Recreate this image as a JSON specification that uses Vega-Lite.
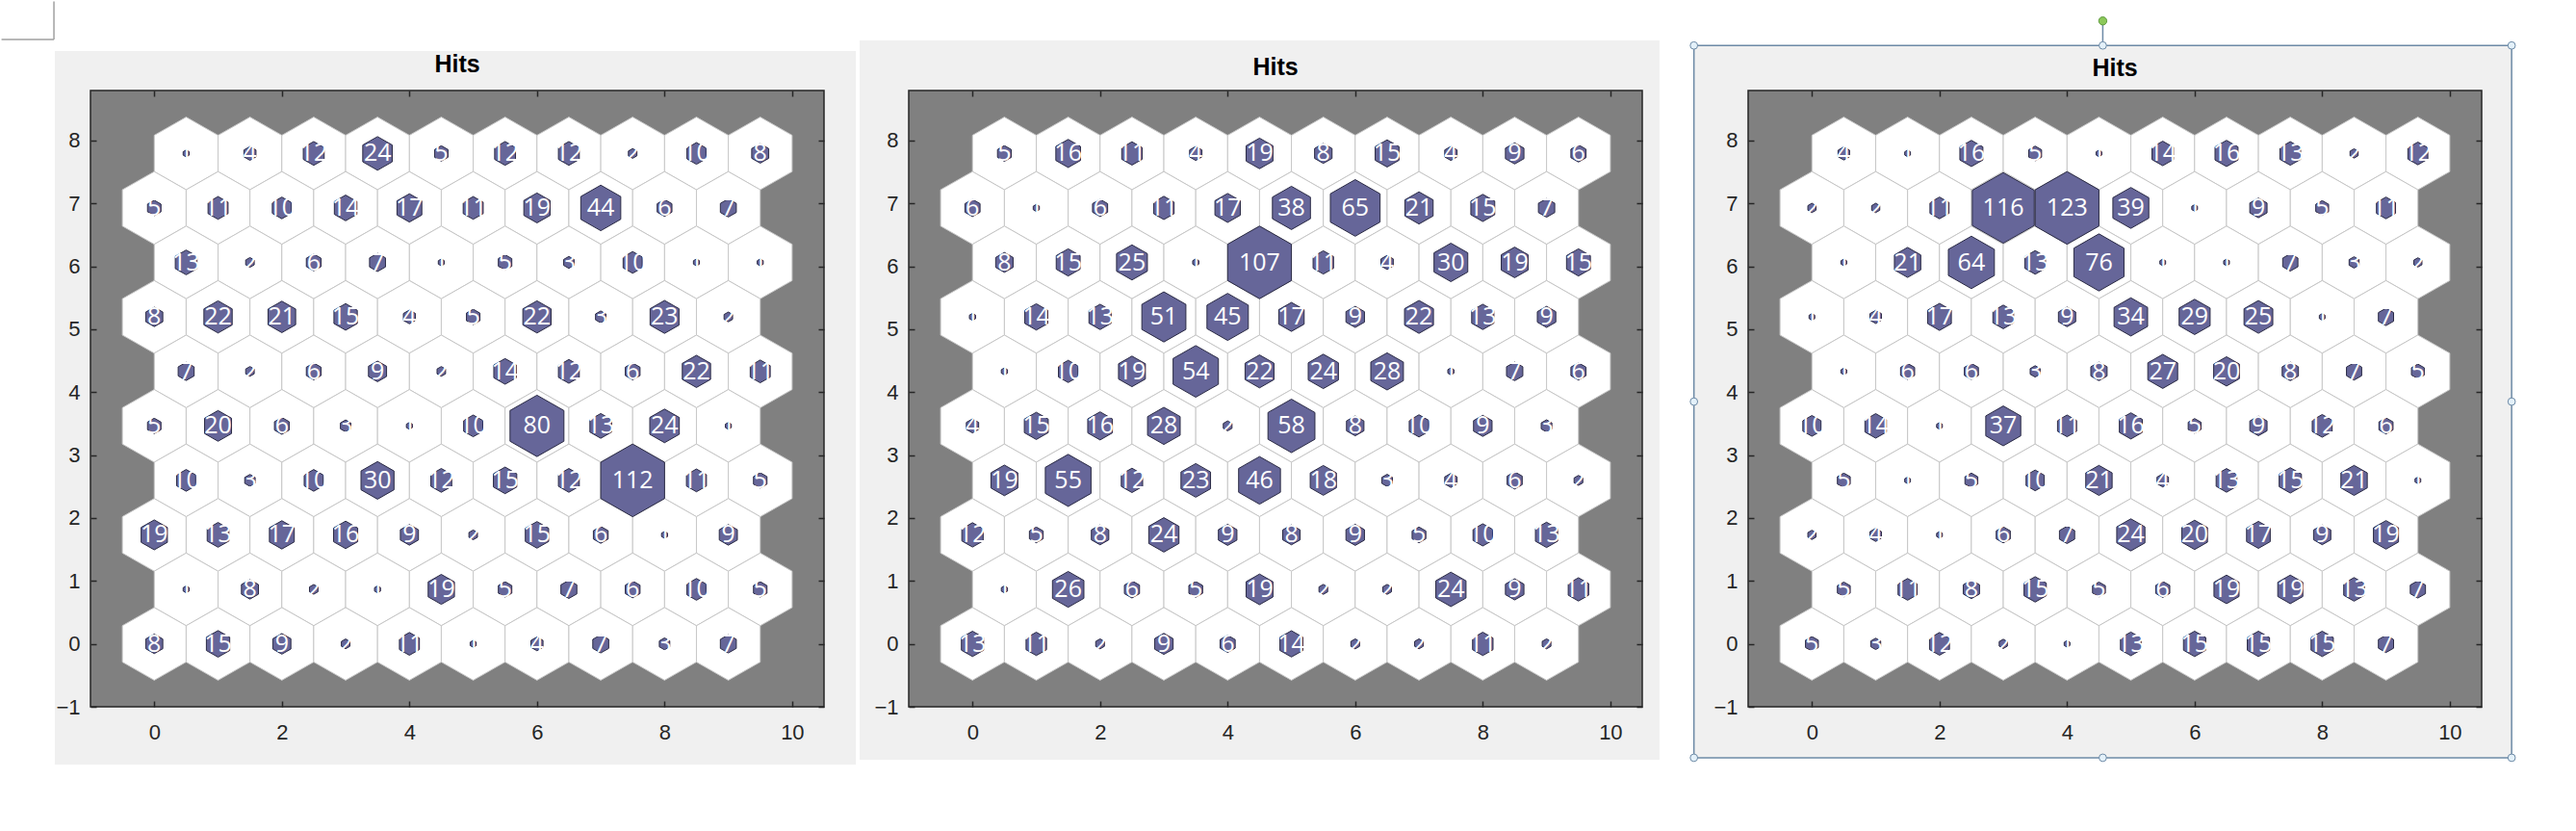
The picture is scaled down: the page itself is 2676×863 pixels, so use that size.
{
"$schema":"https://vega.github.io/schema/vega-lite/v6.json",
"background":"#ffffff",
"padding":{"left":0,"top":0,"right":10,"bottom":10},
"config":{"view":{"stroke":"transparent"}},
"datasets":{
"p1":[
{"x":0.5,"y":7.7942,"h":1},{"x":1.5,"y":7.7942,"h":4},{"x":2.5,"y":7.7942,"h":12},{"x":3.5,"y":7.7942,"h":24},{"x":4.5,"y":7.7942,"h":5},{"x":5.5,"y":7.7942,"h":12},{"x":6.5,"y":7.7942,"h":12},{"x":7.5,"y":7.7942,"h":2},{"x":8.5,"y":7.7942,"h":10},{"x":9.5,"y":7.7942,"h":8},
{"x":0,"y":6.9282,"h":5},{"x":1,"y":6.9282,"h":11},{"x":2,"y":6.9282,"h":10},{"x":3,"y":6.9282,"h":14},{"x":4,"y":6.9282,"h":17},{"x":5,"y":6.9282,"h":11},{"x":6,"y":6.9282,"h":19},{"x":7,"y":6.9282,"h":44},{"x":8,"y":6.9282,"h":6},{"x":9,"y":6.9282,"h":7},
{"x":0.5,"y":6.0622,"h":13},{"x":1.5,"y":6.0622,"h":2},{"x":2.5,"y":6.0622,"h":6},{"x":3.5,"y":6.0622,"h":7},{"x":4.5,"y":6.0622,"h":1},{"x":5.5,"y":6.0622,"h":5},{"x":6.5,"y":6.0622,"h":3},{"x":7.5,"y":6.0622,"h":10},{"x":8.5,"y":6.0622,"h":1},{"x":9.5,"y":6.0622,"h":1},
{"x":0,"y":5.1962,"h":8},{"x":1,"y":5.1962,"h":22},{"x":2,"y":5.1962,"h":21},{"x":3,"y":5.1962,"h":15},{"x":4,"y":5.1962,"h":4},{"x":5,"y":5.1962,"h":5},{"x":6,"y":5.1962,"h":22},{"x":7,"y":5.1962,"h":3},{"x":8,"y":5.1962,"h":23},{"x":9,"y":5.1962,"h":2},
{"x":0.5,"y":4.3301,"h":7},{"x":1.5,"y":4.3301,"h":2},{"x":2.5,"y":4.3301,"h":6},{"x":3.5,"y":4.3301,"h":9},{"x":4.5,"y":4.3301,"h":2},{"x":5.5,"y":4.3301,"h":14},{"x":6.5,"y":4.3301,"h":12},{"x":7.5,"y":4.3301,"h":6},{"x":8.5,"y":4.3301,"h":22},{"x":9.5,"y":4.3301,"h":11},
{"x":0,"y":3.4641,"h":5},{"x":1,"y":3.4641,"h":20},{"x":2,"y":3.4641,"h":6},{"x":3,"y":3.4641,"h":3},{"x":4,"y":3.4641,"h":1},{"x":5,"y":3.4641,"h":10},{"x":6,"y":3.4641,"h":80},{"x":7,"y":3.4641,"h":13},{"x":8,"y":3.4641,"h":24},{"x":9,"y":3.4641,"h":1},
{"x":0.5,"y":2.5981,"h":10},{"x":1.5,"y":2.5981,"h":3},{"x":2.5,"y":2.5981,"h":10},{"x":3.5,"y":2.5981,"h":30},{"x":4.5,"y":2.5981,"h":12},{"x":5.5,"y":2.5981,"h":15},{"x":6.5,"y":2.5981,"h":12},{"x":7.5,"y":2.5981,"h":112},{"x":8.5,"y":2.5981,"h":11},{"x":9.5,"y":2.5981,"h":5},
{"x":0,"y":1.7321,"h":19},{"x":1,"y":1.7321,"h":13},{"x":2,"y":1.7321,"h":17},{"x":3,"y":1.7321,"h":16},{"x":4,"y":1.7321,"h":9},{"x":5,"y":1.7321,"h":2},{"x":6,"y":1.7321,"h":15},{"x":7,"y":1.7321,"h":6},{"x":8,"y":1.7321,"h":1},{"x":9,"y":1.7321,"h":9},
{"x":0.5,"y":0.866,"h":1},{"x":1.5,"y":0.866,"h":8},{"x":2.5,"y":0.866,"h":2},{"x":3.5,"y":0.866,"h":1},{"x":4.5,"y":0.866,"h":19},{"x":5.5,"y":0.866,"h":5},{"x":6.5,"y":0.866,"h":7},{"x":7.5,"y":0.866,"h":6},{"x":8.5,"y":0.866,"h":10},{"x":9.5,"y":0.866,"h":5},
{"x":0,"y":0,"h":8},{"x":1,"y":0,"h":15},{"x":2,"y":0,"h":9},{"x":3,"y":0,"h":2},{"x":4,"y":0,"h":11},{"x":5,"y":0,"h":1},{"x":6,"y":0,"h":4},{"x":7,"y":0,"h":7},{"x":8,"y":0,"h":3},{"x":9,"y":0,"h":7}
],
"p2":[
{"x":0.5,"y":7.7942,"h":5},{"x":1.5,"y":7.7942,"h":16},{"x":2.5,"y":7.7942,"h":11},{"x":3.5,"y":7.7942,"h":4},{"x":4.5,"y":7.7942,"h":19},{"x":5.5,"y":7.7942,"h":8},{"x":6.5,"y":7.7942,"h":15},{"x":7.5,"y":7.7942,"h":4},{"x":8.5,"y":7.7942,"h":9},{"x":9.5,"y":7.7942,"h":6},
{"x":0,"y":6.9282,"h":6},{"x":1,"y":6.9282,"h":1},{"x":2,"y":6.9282,"h":6},{"x":3,"y":6.9282,"h":11},{"x":4,"y":6.9282,"h":17},{"x":5,"y":6.9282,"h":38},{"x":6,"y":6.9282,"h":65},{"x":7,"y":6.9282,"h":21},{"x":8,"y":6.9282,"h":15},{"x":9,"y":6.9282,"h":7},
{"x":0.5,"y":6.0622,"h":8},{"x":1.5,"y":6.0622,"h":15},{"x":2.5,"y":6.0622,"h":25},{"x":3.5,"y":6.0622,"h":1},{"x":4.5,"y":6.0622,"h":107},{"x":5.5,"y":6.0622,"h":11},{"x":6.5,"y":6.0622,"h":4},{"x":7.5,"y":6.0622,"h":30},{"x":8.5,"y":6.0622,"h":19},{"x":9.5,"y":6.0622,"h":15},
{"x":0,"y":5.1962,"h":1},{"x":1,"y":5.1962,"h":14},{"x":2,"y":5.1962,"h":13},{"x":3,"y":5.1962,"h":51},{"x":4,"y":5.1962,"h":45},{"x":5,"y":5.1962,"h":17},{"x":6,"y":5.1962,"h":9},{"x":7,"y":5.1962,"h":22},{"x":8,"y":5.1962,"h":13},{"x":9,"y":5.1962,"h":9},
{"x":0.5,"y":4.3301,"h":1},{"x":1.5,"y":4.3301,"h":10},{"x":2.5,"y":4.3301,"h":19},{"x":3.5,"y":4.3301,"h":54},{"x":4.5,"y":4.3301,"h":22},{"x":5.5,"y":4.3301,"h":24},{"x":6.5,"y":4.3301,"h":28},{"x":7.5,"y":4.3301,"h":1},{"x":8.5,"y":4.3301,"h":7},{"x":9.5,"y":4.3301,"h":6},
{"x":0,"y":3.4641,"h":4},{"x":1,"y":3.4641,"h":15},{"x":2,"y":3.4641,"h":16},{"x":3,"y":3.4641,"h":28},{"x":4,"y":3.4641,"h":2},{"x":5,"y":3.4641,"h":58},{"x":6,"y":3.4641,"h":8},{"x":7,"y":3.4641,"h":10},{"x":8,"y":3.4641,"h":9},{"x":9,"y":3.4641,"h":3},
{"x":0.5,"y":2.5981,"h":19},{"x":1.5,"y":2.5981,"h":55},{"x":2.5,"y":2.5981,"h":12},{"x":3.5,"y":2.5981,"h":23},{"x":4.5,"y":2.5981,"h":46},{"x":5.5,"y":2.5981,"h":18},{"x":6.5,"y":2.5981,"h":3},{"x":7.5,"y":2.5981,"h":4},{"x":8.5,"y":2.5981,"h":6},{"x":9.5,"y":2.5981,"h":2},
{"x":0,"y":1.7321,"h":12},{"x":1,"y":1.7321,"h":5},{"x":2,"y":1.7321,"h":8},{"x":3,"y":1.7321,"h":24},{"x":4,"y":1.7321,"h":9},{"x":5,"y":1.7321,"h":8},{"x":6,"y":1.7321,"h":9},{"x":7,"y":1.7321,"h":5},{"x":8,"y":1.7321,"h":10},{"x":9,"y":1.7321,"h":13},
{"x":0.5,"y":0.866,"h":1},{"x":1.5,"y":0.866,"h":26},{"x":2.5,"y":0.866,"h":6},{"x":3.5,"y":0.866,"h":5},{"x":4.5,"y":0.866,"h":19},{"x":5.5,"y":0.866,"h":2},{"x":6.5,"y":0.866,"h":2},{"x":7.5,"y":0.866,"h":24},{"x":8.5,"y":0.866,"h":9},{"x":9.5,"y":0.866,"h":11},
{"x":0,"y":0,"h":13},{"x":1,"y":0,"h":11},{"x":2,"y":0,"h":2},{"x":3,"y":0,"h":9},{"x":4,"y":0,"h":6},{"x":5,"y":0,"h":14},{"x":6,"y":0,"h":2},{"x":7,"y":0,"h":2},{"x":8,"y":0,"h":11},{"x":9,"y":0,"h":2}
],
"p3":[
{"x":0.5,"y":7.7942,"h":4},{"x":1.5,"y":7.7942,"h":1},{"x":2.5,"y":7.7942,"h":16},{"x":3.5,"y":7.7942,"h":5},{"x":4.5,"y":7.7942,"h":1},{"x":5.5,"y":7.7942,"h":14},{"x":6.5,"y":7.7942,"h":16},{"x":7.5,"y":7.7942,"h":13},{"x":8.5,"y":7.7942,"h":2},{"x":9.5,"y":7.7942,"h":12},
{"x":0,"y":6.9282,"h":2},{"x":1,"y":6.9282,"h":2},{"x":2,"y":6.9282,"h":11},{"x":3,"y":6.9282,"h":116},{"x":4,"y":6.9282,"h":123},{"x":5,"y":6.9282,"h":39},{"x":6,"y":6.9282,"h":1},{"x":7,"y":6.9282,"h":9},{"x":8,"y":6.9282,"h":5},{"x":9,"y":6.9282,"h":11},
{"x":0.5,"y":6.0622,"h":1},{"x":1.5,"y":6.0622,"h":21},{"x":2.5,"y":6.0622,"h":64},{"x":3.5,"y":6.0622,"h":13},{"x":4.5,"y":6.0622,"h":76},{"x":5.5,"y":6.0622,"h":1},{"x":6.5,"y":6.0622,"h":1},{"x":7.5,"y":6.0622,"h":7},{"x":8.5,"y":6.0622,"h":3},{"x":9.5,"y":6.0622,"h":2},
{"x":0,"y":5.1962,"h":1},{"x":1,"y":5.1962,"h":4},{"x":2,"y":5.1962,"h":17},{"x":3,"y":5.1962,"h":13},{"x":4,"y":5.1962,"h":9},{"x":5,"y":5.1962,"h":34},{"x":6,"y":5.1962,"h":29},{"x":7,"y":5.1962,"h":25},{"x":8,"y":5.1962,"h":1},{"x":9,"y":5.1962,"h":7},
{"x":0.5,"y":4.3301,"h":1},{"x":1.5,"y":4.3301,"h":6},{"x":2.5,"y":4.3301,"h":6},{"x":3.5,"y":4.3301,"h":3},{"x":4.5,"y":4.3301,"h":8},{"x":5.5,"y":4.3301,"h":27},{"x":6.5,"y":4.3301,"h":20},{"x":7.5,"y":4.3301,"h":8},{"x":8.5,"y":4.3301,"h":7},{"x":9.5,"y":4.3301,"h":5},
{"x":0,"y":3.4641,"h":10},{"x":1,"y":3.4641,"h":14},{"x":2,"y":3.4641,"h":1},{"x":3,"y":3.4641,"h":37},{"x":4,"y":3.4641,"h":11},{"x":5,"y":3.4641,"h":16},{"x":6,"y":3.4641,"h":5},{"x":7,"y":3.4641,"h":9},{"x":8,"y":3.4641,"h":12},{"x":9,"y":3.4641,"h":6},
{"x":0.5,"y":2.5981,"h":5},{"x":1.5,"y":2.5981,"h":1},{"x":2.5,"y":2.5981,"h":5},{"x":3.5,"y":2.5981,"h":10},{"x":4.5,"y":2.5981,"h":21},{"x":5.5,"y":2.5981,"h":4},{"x":6.5,"y":2.5981,"h":13},{"x":7.5,"y":2.5981,"h":15},{"x":8.5,"y":2.5981,"h":21},{"x":9.5,"y":2.5981,"h":1},
{"x":0,"y":1.7321,"h":2},{"x":1,"y":1.7321,"h":4},{"x":2,"y":1.7321,"h":1},{"x":3,"y":1.7321,"h":6},{"x":4,"y":1.7321,"h":7},{"x":5,"y":1.7321,"h":24},{"x":6,"y":1.7321,"h":20},{"x":7,"y":1.7321,"h":17},{"x":8,"y":1.7321,"h":9},{"x":9,"y":1.7321,"h":19},
{"x":0.5,"y":0.866,"h":5},{"x":1.5,"y":0.866,"h":11},{"x":2.5,"y":0.866,"h":8},{"x":3.5,"y":0.866,"h":15},{"x":4.5,"y":0.866,"h":5},{"x":5.5,"y":0.866,"h":6},{"x":6.5,"y":0.866,"h":19},{"x":7.5,"y":0.866,"h":19},{"x":8.5,"y":0.866,"h":13},{"x":9.5,"y":0.866,"h":7},
{"x":0,"y":0,"h":5},{"x":1,"y":0,"h":3},{"x":2,"y":0,"h":12},{"x":3,"y":0,"h":2},{"x":4,"y":0,"h":1},{"x":5,"y":0,"h":13},{"x":6,"y":0,"h":15},{"x":7,"y":0,"h":15},{"x":8,"y":0,"h":15},{"x":9,"y":0,"h":7}
]
},
"resolve":{"scale":{"x":"independent","y":"independent","size":"independent"}},
"spacing":2,
"hconcat":[
{"width":762,"height":640,
"resolve":{"axis":{"x":"independent","y":"independent"}},
"layer":[
{"data":{"values":[{}]},"mark":{"type":"rect","fill":"#f0f0f0"},"encoding":{"x":{"datum":-1.56,"type":"quantitative","scale":{"domain":[-1,10.5],"nice":false,"zero":false},"axis":null},"x2":{"datum":11.0},"y":{"datum":-1.92,"type":"quantitative","scale":{"domain":[-1,8.7942],"nice":false,"zero":false},"axis":null},"y2":{"datum":9.42}}},
{"data":{"values":[{}]},"mark":{"type":"rule","color":"#a0a0a0","strokeWidth":1.5},"encoding":{"x":{"datum":-1.573,"type":"quantitative","axis":null},"y":{"datum":9.605,"type":"quantitative","axis":null},"y2":{"datum":10.21}}},
{"data":{"values":[{}]},"mark":{"type":"rule","color":"#a0a0a0","strokeWidth":1.5},"encoding":{"x":{"datum":-2.395,"type":"quantitative","axis":null},"x2":{"datum":-1.573},"y":{"datum":9.605,"type":"quantitative","axis":null}}},
{"data":{"values":[{}]},"mark":{"type":"rect","fill":"#808080","stroke":"#262626","strokeWidth":1.5},"encoding":{"x":{"datum":-1,"type":"quantitative","axis":{"orient":"bottom","values":[0,2,4,6,8,10],"format":"d","title":null,"domain":false,"grid":false,"tickSize":-6,"tickColor":"#262626","tickWidth":1.5,"labelFontSize":22,"labelFont":"Liberation Sans","labelColor":"#262626","labelPadding":22,"labelFlush":false,"labelOverlap":false,"zindex":1}},"x2":{"datum":10.5},"y":{"datum":-1,"type":"quantitative","axis":{"orient":"left","values":[-1,0,1,2,3,4,5,6,7,8],"format":"d","title":null,"domain":false,"grid":false,"tickSize":-6,"tickColor":"#262626","tickWidth":1.5,"labelFontSize":22,"labelFont":"Liberation Sans","labelColor":"#262626","labelPadding":17,"labelFlush":false,"labelOverlap":false,"zindex":1}},"y2":{"datum":8.7942}}},
{"data":{"name":"p1"},"mark":{"type":"point","shape":"M0,-1.1388L1,-0.5694L1,0.5694L0,1.1388L-1,0.5694L-1,-0.5694Z","filled":true,"fill":"#ffffff","stroke":"#c8c8c8","strokeWidth":1,"opacity":1,"size":4390},"encoding":{"x":{"field":"x","type":"quantitative","axis":{"orient":"top","values":[0,2,4,6,8,10],"labels":false,"title":null,"domain":false,"grid":false,"tickSize":-6,"tickColor":"#262626","tickWidth":1.5,"zindex":1}},"y":{"field":"y","type":"quantitative","axis":{"orient":"right","values":[-1,0,1,2,3,4,5,6,7,8],"labels":false,"title":null,"domain":false,"grid":false,"tickSize":-6,"tickColor":"#262626","tickWidth":1.5,"zindex":1}}}},
{"data":{"name":"p1"},"mark":{"type":"point","shape":"M0,-1.1388L1,-0.5694L1,0.5694L0,1.1388L-1,0.5694L-1,-0.5694Z","filled":true,"fill":"#666699","stroke":"#2b2b45","strokeWidth":1,"opacity":1},"encoding":{"x":{"field":"x","type":"quantitative","axis":null},"y":{"field":"y","type":"quantitative","axis":null},"size":{"field":"h","type":"quantitative","scale":{"type":"linear","domain":[0,112],"range":[0,4390],"zero":true},"legend":null}}},
{"data":{"name":"p1"},"mark":{"type":"text","color":"#ffffff","fontSize":25,"font":"Open Sans","align":"center","baseline":"middle"},"encoding":{"x":{"field":"x","type":"quantitative","axis":null},"y":{"field":"y","type":"quantitative","axis":null},"text":{"field":"h","type":"quantitative"}}},
{"data":{"values":[{}]},"mark":{"type":"text","text":"Hits","color":"#000000","fontSize":25,"fontWeight":"bold","font":"Liberation Sans","align":"center","baseline":"middle"},"encoding":{"x":{"datum":4.75,"type":"quantitative","axis":null},"y":{"datum":9.2,"type":"quantitative","axis":null}}}
]},
{"width":762,"height":640,
"resolve":{"axis":{"x":"independent","y":"independent"}},
"layer":[
{"data":{"values":[{}]},"mark":{"type":"rect","fill":"#f0f0f0"},"encoding":{"x":{"datum":-1.77,"type":"quantitative","scale":{"domain":[-1,10.5],"nice":false,"zero":false},"axis":null},"x2":{"datum":10.77},"y":{"datum":-1.84,"type":"quantitative","scale":{"domain":[-1,8.7942],"nice":false,"zero":false},"axis":null},"y2":{"datum":9.59}}},
{"data":{"values":[{}]},"mark":{"type":"rect","fill":"#808080","stroke":"#262626","strokeWidth":1.5},"encoding":{"x":{"datum":-1,"type":"quantitative","axis":{"orient":"bottom","values":[0,2,4,6,8,10],"format":"d","title":null,"domain":false,"grid":false,"tickSize":-6,"tickColor":"#262626","tickWidth":1.5,"labelFontSize":22,"labelFont":"Liberation Sans","labelColor":"#262626","labelPadding":22,"labelFlush":false,"labelOverlap":false,"zindex":1}},"x2":{"datum":10.5},"y":{"datum":-1,"type":"quantitative","axis":{"orient":"left","values":[-1,0,1,2,3,4,5,6,7,8],"format":"d","title":null,"domain":false,"grid":false,"tickSize":-6,"tickColor":"#262626","tickWidth":1.5,"labelFontSize":22,"labelFont":"Liberation Sans","labelColor":"#262626","labelPadding":17,"labelFlush":false,"labelOverlap":false,"zindex":1}},"y2":{"datum":8.7942}}},
{"data":{"name":"p2"},"mark":{"type":"point","shape":"M0,-1.1388L1,-0.5694L1,0.5694L0,1.1388L-1,0.5694L-1,-0.5694Z","filled":true,"fill":"#ffffff","stroke":"#c8c8c8","strokeWidth":1,"opacity":1,"size":4390},"encoding":{"x":{"field":"x","type":"quantitative","axis":{"orient":"top","values":[0,2,4,6,8,10],"labels":false,"title":null,"domain":false,"grid":false,"tickSize":-6,"tickColor":"#262626","tickWidth":1.5,"zindex":1}},"y":{"field":"y","type":"quantitative","axis":{"orient":"right","values":[-1,0,1,2,3,4,5,6,7,8],"labels":false,"title":null,"domain":false,"grid":false,"tickSize":-6,"tickColor":"#262626","tickWidth":1.5,"zindex":1}}}},
{"data":{"name":"p2"},"mark":{"type":"point","shape":"M0,-1.1388L1,-0.5694L1,0.5694L0,1.1388L-1,0.5694L-1,-0.5694Z","filled":true,"fill":"#666699","stroke":"#2b2b45","strokeWidth":1,"opacity":1},"encoding":{"x":{"field":"x","type":"quantitative","axis":null},"y":{"field":"y","type":"quantitative","axis":null},"size":{"field":"h","type":"quantitative","scale":{"type":"linear","domain":[0,107],"range":[0,4390],"zero":true},"legend":null}}},
{"data":{"name":"p2"},"mark":{"type":"text","color":"#ffffff","fontSize":25,"font":"Open Sans","align":"center","baseline":"middle"},"encoding":{"x":{"field":"x","type":"quantitative","axis":null},"y":{"field":"y","type":"quantitative","axis":null},"text":{"field":"h","type":"quantitative"}}},
{"data":{"values":[{}]},"mark":{"type":"text","text":"Hits","color":"#000000","fontSize":25,"fontWeight":"bold","font":"Liberation Sans","align":"center","baseline":"middle"},"encoding":{"x":{"datum":4.75,"type":"quantitative","axis":null},"y":{"datum":9.16,"type":"quantitative","axis":null}}}
]},
{"width":762,"height":640,
"resolve":{"axis":{"x":"independent","y":"independent"}},
"layer":[
{"data":{"values":[{}]},"mark":{"type":"rect","fill":"#ffffff","opacity":0},"encoding":{"x":{"datum":-2.33,"type":"quantitative","scale":{"domain":[-1,10.5],"nice":false,"zero":false},"axis":null},"x2":{"datum":0},"y":{"datum":0,"type":"quantitative","scale":{"domain":[-1,8.7942],"nice":false,"zero":false},"axis":null},"y2":{"datum":1}}},
{"data":{"values":[{}]},"mark":{"type":"rect","fill":"#f0f0f0","stroke":"#6d8aa6","strokeWidth":1.5},"encoding":{"x":{"datum":-1.85,"type":"quantitative","axis":null},"x2":{"datum":10.97},"y":{"datum":-1.81,"type":"quantitative","axis":null},"y2":{"datum":9.51}}},
{"data":{"values":[{}]},"mark":{"type":"rule","color":"#6d8aa6","strokeWidth":1.5},"encoding":{"x":{"datum":4.56,"type":"quantitative","axis":null},"y":{"datum":9.51,"type":"quantitative","axis":null},"y2":{"datum":9.9}}},
{"data":{"values":[{}]},"mark":{"type":"point","shape":"circle","filled":true,"fill":"#8cc85a","stroke":"#5d9a3c","strokeWidth":1,"opacity":1,"size":70},"encoding":{"x":{"datum":4.56,"type":"quantitative","axis":null},"y":{"datum":9.9,"type":"quantitative","axis":null}}},
{"data":{"values":[{}]},"mark":{"type":"rect","fill":"#808080","stroke":"#262626","strokeWidth":1.5},"encoding":{"x":{"datum":-1,"type":"quantitative","axis":{"orient":"bottom","values":[0,2,4,6,8,10],"format":"d","title":null,"domain":false,"grid":false,"tickSize":-6,"tickColor":"#262626","tickWidth":1.5,"labelFontSize":22,"labelFont":"Liberation Sans","labelColor":"#262626","labelPadding":22,"labelFlush":false,"labelOverlap":false,"zindex":1}},"x2":{"datum":10.5},"y":{"datum":-1,"type":"quantitative","axis":{"orient":"left","values":[-1,0,1,2,3,4,5,6,7,8],"format":"d","title":null,"domain":false,"grid":false,"tickSize":-6,"tickColor":"#262626","tickWidth":1.5,"labelFontSize":22,"labelFont":"Liberation Sans","labelColor":"#262626","labelPadding":17,"labelFlush":false,"labelOverlap":false,"zindex":1}},"y2":{"datum":8.7942}}},
{"data":{"name":"p3"},"mark":{"type":"point","shape":"M0,-1.1388L1,-0.5694L1,0.5694L0,1.1388L-1,0.5694L-1,-0.5694Z","filled":true,"fill":"#ffffff","stroke":"#c8c8c8","strokeWidth":1,"opacity":1,"size":4390},"encoding":{"x":{"field":"x","type":"quantitative","axis":{"orient":"top","values":[0,2,4,6,8,10],"labels":false,"title":null,"domain":false,"grid":false,"tickSize":-6,"tickColor":"#262626","tickWidth":1.5,"zindex":1}},"y":{"field":"y","type":"quantitative","axis":{"orient":"right","values":[-1,0,1,2,3,4,5,6,7,8],"labels":false,"title":null,"domain":false,"grid":false,"tickSize":-6,"tickColor":"#262626","tickWidth":1.5,"zindex":1}}}},
{"data":{"name":"p3"},"mark":{"type":"point","shape":"M0,-1.1388L1,-0.5694L1,0.5694L0,1.1388L-1,0.5694L-1,-0.5694Z","filled":true,"fill":"#666699","stroke":"#2b2b45","strokeWidth":1,"opacity":1},"encoding":{"x":{"field":"x","type":"quantitative","axis":null},"y":{"field":"y","type":"quantitative","axis":null},"size":{"field":"h","type":"quantitative","scale":{"type":"linear","domain":[0,123],"range":[0,4390],"zero":true},"legend":null}}},
{"data":{"name":"p3"},"mark":{"type":"text","color":"#ffffff","fontSize":25,"font":"Open Sans","align":"center","baseline":"middle"},"encoding":{"x":{"field":"x","type":"quantitative","axis":null},"y":{"field":"y","type":"quantitative","axis":null},"text":{"field":"h","type":"quantitative"}}},
{"data":{"values":[{}]},"mark":{"type":"text","text":"Hits","color":"#000000","fontSize":25,"fontWeight":"bold","font":"Liberation Sans","align":"center","baseline":"middle"},"encoding":{"x":{"datum":4.75,"type":"quantitative","axis":null},"y":{"datum":9.15,"type":"quantitative","axis":null}}},
{"data":{"values":[{}]},"mark":{"type":"point","shape":"circle","filled":true,"fill":"#e4f1fa","stroke":"#6d8aa6","strokeWidth":1,"opacity":1,"size":60},"encoding":{"x":{"datum":-1.85,"type":"quantitative","axis":null},"y":{"datum":9.51,"type":"quantitative","axis":null}}},
{"data":{"values":[{}]},"mark":{"type":"point","shape":"circle","filled":true,"fill":"#e4f1fa","stroke":"#6d8aa6","strokeWidth":1,"opacity":1,"size":60},"encoding":{"x":{"datum":4.56,"type":"quantitative","axis":null},"y":{"datum":9.51,"type":"quantitative","axis":null}}},
{"data":{"values":[{}]},"mark":{"type":"point","shape":"circle","filled":true,"fill":"#e4f1fa","stroke":"#6d8aa6","strokeWidth":1,"opacity":1,"size":60},"encoding":{"x":{"datum":10.97,"type":"quantitative","axis":null},"y":{"datum":9.51,"type":"quantitative","axis":null}}},
{"data":{"values":[{}]},"mark":{"type":"point","shape":"circle","filled":true,"fill":"#e4f1fa","stroke":"#6d8aa6","strokeWidth":1,"opacity":1,"size":60},"encoding":{"x":{"datum":-1.85,"type":"quantitative","axis":null},"y":{"datum":3.85,"type":"quantitative","axis":null}}},
{"data":{"values":[{}]},"mark":{"type":"point","shape":"circle","filled":true,"fill":"#e4f1fa","stroke":"#6d8aa6","strokeWidth":1,"opacity":1,"size":60},"encoding":{"x":{"datum":10.97,"type":"quantitative","axis":null},"y":{"datum":3.85,"type":"quantitative","axis":null}}},
{"data":{"values":[{}]},"mark":{"type":"point","shape":"circle","filled":true,"fill":"#e4f1fa","stroke":"#6d8aa6","strokeWidth":1,"opacity":1,"size":60},"encoding":{"x":{"datum":-1.85,"type":"quantitative","axis":null},"y":{"datum":-1.81,"type":"quantitative","axis":null}}},
{"data":{"values":[{}]},"mark":{"type":"point","shape":"circle","filled":true,"fill":"#e4f1fa","stroke":"#6d8aa6","strokeWidth":1,"opacity":1,"size":60},"encoding":{"x":{"datum":4.56,"type":"quantitative","axis":null},"y":{"datum":-1.81,"type":"quantitative","axis":null}}},
{"data":{"values":[{}]},"mark":{"type":"point","shape":"circle","filled":true,"fill":"#e4f1fa","stroke":"#6d8aa6","strokeWidth":1,"opacity":1,"size":60},"encoding":{"x":{"datum":10.97,"type":"quantitative","axis":null},"y":{"datum":-1.81,"type":"quantitative","axis":null}}}
]}
]
}
